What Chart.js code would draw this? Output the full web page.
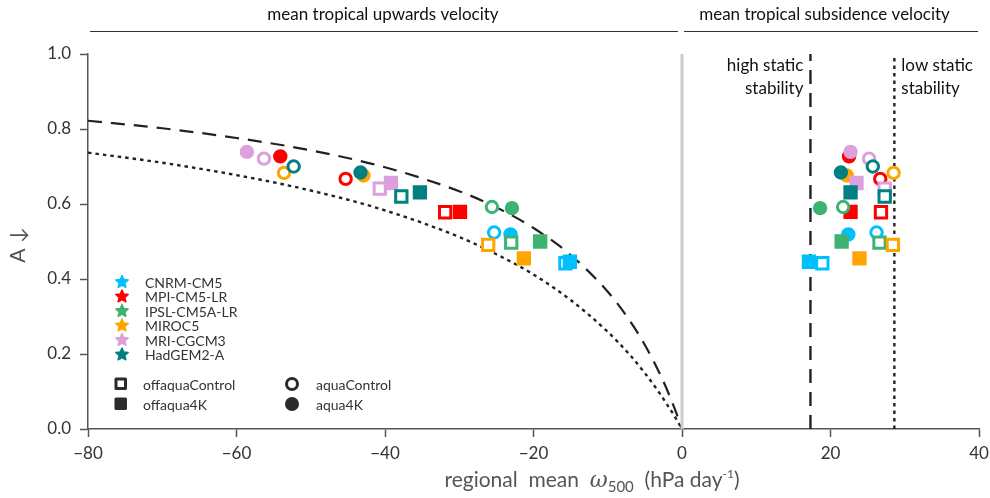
<!DOCTYPE html>
<html><head><meta charset="utf-8">
<script src="https://cdn.jsdelivr.net/npm/chart.js@4.4.0/dist/chart.umd.min.js"></script>
<style>html,body{margin:0;padding:0;background:#fff;} canvas{display:block;}</style>
</head><body>
<canvas id="c" width="990" height="498"></canvas>
<script>
// ---- data ----
const models = ['CNRM-CM5', 'MPI-CM5-LR', 'IPSL-CM5A-LR', 'MIROC5', 'MRI-CGCM3', 'HadGEM2-A'];
const modelColors = ['#00bfff', '#ff0000', '#3cb371', '#ffa500', '#dda0dd', '#008080'];
const experiments = ['offaquaControl', 'offaqua4K', 'aquaControl', 'aqua4K'];

// regional mean omega500 (hPa/day) in upward region, per model
const omegaUpOffaquaControl = [-15.7, -31.9, -23.0, -26.1, -40.7, -37.8];
const omegaUpOffaqua4K      = [-15.1, -29.9, -19.1, -21.3, -39.2, -35.3];
const omegaUpAquaControl    = [-25.3, -45.3, -25.6, -53.6, -56.3, -52.3];
const omegaUpAqua4K         = [-23.1, -54.1, -22.9, -42.9, -58.6, -43.3];
// regional mean omega500 (hPa/day) in subsidence region, per model
const omegaDnOffaquaControl = [18.9, 26.8, 26.6, 28.4, 27.3, 27.3];
const omegaDnOffaqua4K      = [17.1, 22.7, 21.5, 23.9, 23.5, 22.7];
const omegaDnAquaControl    = [26.2, 26.7, 21.7, 28.5, 25.2, 25.7];
const omegaDnAqua4K         = [22.4, 22.5, 18.6, 22.2, 22.7, 21.4];
// ascent area fraction A, per model
const areaOffaquaControl = [0.442, 0.578, 0.497, 0.491, 0.641, 0.620];
const areaOffaqua4K      = [0.446, 0.579, 0.500, 0.455, 0.656, 0.631];
const areaAquaControl    = [0.524, 0.667, 0.592, 0.683, 0.721, 0.700];
const areaAqua4K         = [0.519, 0.727, 0.589, 0.676, 0.739, 0.684];

// reference curves
const curveOmega  = [-80, -70, -60, -50, -40, -30, -25, -20, -15, -10, -7, -5, -3, -2, -1, 0];
const curveHighA  = [0.822, 0.802, 0.776, 0.743, 0.698, 0.634, 0.591, 0.536, 0.464, 0.366, 0.288, 0.224, 0.148, 0.104, 0.055, 0];
const curveLowA   = [0.737, 0.710, 0.677, 0.636, 0.583, 0.512, 0.466, 0.412, 0.344, 0.259, 0.197, 0.149, 0.095, 0.065, 0.034, 0];
// vertical reference lines (hPa/day)
const highStabilityOmega = 17.3;
const lowStabilityOmega = 28.6;

const xTicks = [-80, -60, -40, -20, 0, 20, 40];
const yTicks = [0.0, 0.2, 0.4, 0.6, 0.8, 1.0];

// ---- build datasets ----
const expData = {
  offaquaControl: [omegaUpOffaquaControl, omegaDnOffaquaControl, areaOffaquaControl],
  offaqua4K: [omegaUpOffaqua4K, omegaDnOffaqua4K, areaOffaqua4K],
  aquaControl: [omegaUpAquaControl, omegaDnAquaControl, areaAquaControl],
  aqua4K: [omegaUpAqua4K, omegaDnAqua4K, areaAqua4K]
};
let pointSets = [];
models.forEach((m, i) => {
  experiments.forEach(e => {
    const [up, dn, a] = expData[e];
    const isSquare = e.startsWith('off');
    const isOpen = e.endsWith('Control');
    pointSets.push({
      type: 'scatter',
      label: m + ' ' + e,
      data: [{x: up[i], y: a[i]}, {x: dn[i], y: a[i]}],
      pointStyle: isSquare ? 'rect' : 'circle',
      pointRadius: isSquare ? 8 : 5.7,
      borderWidth: 3,
      borderColor: modelColors[i],
      backgroundColor: isOpen ? '#ffffff' : modelColors[i],
      showLine: false
    });
  });
});
pointSets.reverse(); // first dataset is drawn on top

const lineSets = [
  {type: 'line', label: 'zero', data: [{x: 0, y: 0}, {x: 0, y: 1}], borderColor: '#cccccc', borderWidth: 3, pointRadius: 0, fill: false},
  {type: 'line', label: 'high', data: curveOmega.map((w, i) => ({x: w, y: curveHighA[i]})), borderColor: '#222', borderWidth: 2.2, borderDash: [14, 9], pointRadius: 0, fill: false, cubicInterpolationMode: 'monotone'},
  {type: 'line', label: 'low', data: curveOmega.map((w, i) => ({x: w, y: curveLowA[i]})), borderColor: '#222', borderWidth: 2.4, borderDash: [3.5, 4], pointRadius: 0, fill: false, cubicInterpolationMode: 'monotone'},
  {type: 'line', label: 'vhigh', data: [{x: highStabilityOmega, y: 0}, {x: highStabilityOmega, y: 1}], borderColor: '#222', borderWidth: 2.4, borderDash: [14, 9], pointRadius: 0, fill: false},
  {type: 'line', label: 'vlow', data: [{x: lowStabilityOmega, y: 0}, {x: lowStabilityOmega, y: 1}], borderColor: '#222', borderWidth: 2.4, borderDash: [3.5, 4], pointRadius: 0, fill: false}
];

const FONT = 'Lato';

function drawStar(ctx, cx, cy, R, r) {
  ctx.beginPath();
  for (let k = 0; k < 10; k++) {
    const rad = k % 2 === 0 ? R : r;
    const ang = -Math.PI / 2 + k * Math.PI / 5;
    const px = cx + rad * Math.cos(ang), py = cy + rad * Math.sin(ang);
    if (k === 0) ctx.moveTo(px, py); else ctx.lineTo(px, py);
  }
  ctx.closePath();
  ctx.lineJoin = 'round';
  ctx.lineWidth = 1.5;
  ctx.fill();
  ctx.stroke();
}

const overlay = {
  id: 'overlay',
  afterDraw(chart) {
    const ctx = chart.ctx;
    const xs = chart.scales.x;
    ctx.save();
    // headers
    ctx.fillStyle = '#111';
    ctx.strokeStyle = '#333';
    ctx.lineWidth = 1;
    ctx.textBaseline = 'alphabetic';
    const x0 = xs.getPixelForValue(0), xl = xs.getPixelForValue(-80), xr = xs.getPixelForValue(40);
    ctx.font = '17px ' + FONT;
    ctx.textAlign = 'center';
    ctx.fillText('mean tropical upwards velocity', (xl + x0) / 2 - 2, 20);
    ctx.fillText('mean tropical subsidence velocity', (x0 + xr) / 2 - 6, 20);
    ctx.beginPath();
    ctx.moveTo(xl + 2, 31.5); ctx.lineTo(x0 - 4, 31.5);
    ctx.moveTo(x0 + 2, 31.5); ctx.lineTo(xr - 1, 31.5);
    ctx.stroke();
    // stability labels
    const xh = xs.getPixelForValue(highStabilityOmega), xlo = xs.getPixelForValue(lowStabilityOmega);
    ctx.font = '17px ' + FONT;
    ctx.textAlign = 'right';
    ctx.fillText('high static', xh - 7, 71);
    ctx.fillText('stability', xh - 7, 94);
    ctx.textAlign = 'left';
    ctx.fillText('low static', xlo + 7, 71);
    ctx.fillText('stability', xlo + 7, 94);
    // legend: models
    ctx.font = '14px ' + FONT;
    ctx.textBaseline = 'middle';
    const rowY = [282, 296.5, 311, 325.5, 340, 354.5];
    models.forEach((m, i) => {
      ctx.fillStyle = modelColors[i];
      ctx.strokeStyle = modelColors[i];
      drawStar(ctx, 122, rowY[i], 6.5, 3);
      ctx.fillStyle = '#333';
      ctx.fillText(m, 145, rowY[i] + 1);
    });
    // legend: experiments
    const dark = '#2b2b2b';
    ctx.lineWidth = 3;
    ctx.strokeStyle = dark;
    ctx.fillStyle = '#fff';
    ctx.lineJoin = 'round';
    ctx.fillRect(116, 379, 9.5, 9.5); ctx.strokeRect(116, 379, 9.5, 9.5);
    ctx.fillStyle = dark;
    ctx.fillRect(116, 399, 9.5, 9.5); ctx.strokeRect(116, 399, 9.5, 9.5);
    ctx.beginPath(); ctx.arc(292, 384, 5.5, 0, Math.PI * 2); ctx.fillStyle = '#fff'; ctx.fill(); ctx.stroke();
    ctx.beginPath(); ctx.arc(292, 404, 5.5, 0, Math.PI * 2); ctx.fillStyle = dark; ctx.fill(); ctx.stroke();
    ctx.fillStyle = '#333';
    ctx.fillText('offaquaControl', 143, 385);
    ctx.fillText('offaqua4K', 143, 405);
    ctx.fillText('aquaControl', 316, 385);
    ctx.fillText('aqua4K', 316, 405);
    // x axis title with sub/superscript
    ctx.textBaseline = 'alphabetic';
    ctx.textAlign = 'left';
    ctx.fillStyle = '#555';
    const parts = [
      {t: 'regional  mean  ', f: '21px ' + FONT, dy: 0},
      {t: '\u03c9', f: 'italic 22px "DejaVu Serif"', dy: 0},
      {t: '500', f: '15px ' + FONT, dy: 5},
      {t: '  (hPa day', f: '21px ' + FONT, dy: 0},
      {t: '-1', f: '12px ' + FONT, dy: -9},
      {t: ')', f: '21px ' + FONT, dy: 0}
    ];
    let total = 0;
    parts.forEach(p => { ctx.font = p.f; p.w = ctx.measureText(p.t).width; total += p.w; });
    let px = 592 - total / 2;
    parts.forEach(p => { ctx.font = p.f; ctx.fillText(p.t, px, 487 + p.dy); px += p.w; });
    // y axis title
    ctx.translate(25, 245);
    ctx.rotate(-Math.PI / 2);
    ctx.textAlign = 'center';
    ctx.font = '21px ' + FONT;
    ctx.fillText('A \u2193', 0, 0);
    ctx.restore();
  }
};

new Chart(document.getElementById('c'), {
  data: {datasets: [...pointSets, ...lineSets]},
  options: {
    responsive: false,
    animation: false,
    events: [],
    layout: {padding: {left: 0, top: 54, right: 10.5, bottom: 0}},
    plugins: {legend: {display: false}, tooltip: {enabled: false}, title: {display: false}},
    scales: {
      x: {
        type: 'linear', min: -80, max: 40,
        afterBuildTicks: s => { s.ticks = xTicks.map(v => ({value: v})); },
        afterFit: s => { s.height = 69; s.paddingLeft = 0; s.paddingRight = 0; },
        ticks: {
          color: '#333', padding: 6,
          font: {family: FONT, size: 17},
          callback: v => (v < 0 ? '\u2212' + Math.abs(v) : String(v))
        },
        grid: {display: true, drawOnChartArea: false, drawTicks: true, tickLength: 8, color: '#555', tickWidth: 1.5},
        border: {display: true, color: '#555', width: 1.5}
      },
      y: {
        type: 'linear', min: 0, max: 1,
        afterBuildTicks: s => { s.ticks = yTicks.map(v => ({value: v})); },
        afterFit: s => { s.width = 88; s.paddingTop = 0; s.paddingBottom = 0; },
        ticks: {
          color: '#333', padding: 9,
          font: {family: FONT, size: 17},
          callback: v => Number(v).toFixed(1)
        },
        grid: {display: true, drawOnChartArea: false, drawTicks: true, tickLength: 8, color: '#555', tickWidth: 1.5},
        border: {display: true, color: '#555', width: 1.5}
      }
    }
  },
  plugins: [overlay]
});
</script>
</body></html>
